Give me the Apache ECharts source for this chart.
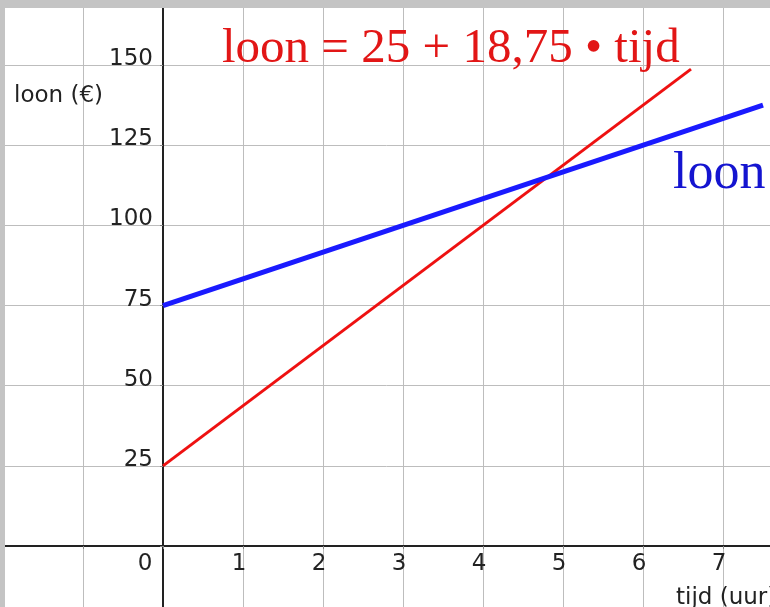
<!DOCTYPE html>
<html>
<head>
<meta charset="utf-8">
<script src="https://cdn.jsdelivr.net/npm/echarts@6/dist/echarts.min.js"></script>
<style>
html,body{margin:0;padding:0;background:#fff;}
#chart{width:770px;height:607px;}
</style>
</head>
<body>
<div id="chart"></div>
<script>
// Data
var redTijd = [0, 6.6];
var redLoon = [25, 148.75];
var blueTijd = [0, 7.5];
var blueLoon = [75, 137.5];
var xTickLabels = ['0', '1', '2', '3', '4', '5', '6', '7'];
var yTickLabels = ['25', '50', '75', '100', '125', '150'];
var formulaText = 'loon = 25 + 18,75 \u2022 tijd';
var blueText = 'loon';
var yName = 'loon (\u20ac)';
var xName = 'tijd (uur)';

function pairs(xs, ys) { return xs.map(function (x, i) { return [x, ys[i]]; }); }

var chart = echarts.init(document.getElementById('chart'));
var tickFont = 'DejaVu Sans';
var fs = 23;
chart.setOption({
  animation: false,
  backgroundColor: '#ffffff',
  grid: { left: 3, right: 0, top: 8, bottom: -19.2, containLabel: false, outerBoundsMode: 'none' },
  xAxis: {
    type: 'value', min: -2, max: 7.5875, interval: 1, position: 'bottom', offset: -80.2,
    axisLine: { onZero: false, lineStyle: { color: '#222', width: 2 } },
    axisTick: { show: true, length: 3, lineStyle: { color: '#888' } },
    splitLine: { show: true, showMaxLine: false, lineStyle: { color: '#bdbdbd', width: 1 } },
    axisLabel: {
      show: true, margin: 7, color: '#222', fontFamily: tickFont, fontSize: fs,
      padding: [0, 8, 0, 0], showMaxLabel: false, hideOverlap: false,
      formatter: function (v) {
        var s = String(Math.round(v));
        if (Math.abs(v) < 1e-9) return '{z|' + xTickLabels[0] + '}';
        return xTickLabels.indexOf(s) > 0 && Math.abs(v - Math.round(v)) < 1e-9 ? s : '';
      },
      rich: { z: { fontFamily: tickFont, fontSize: fs, color: '#222', padding: [0, 28, 0, 0] } }
    }
  },
  yAxis: {
    type: 'value', min: -25, max: 167.8, interval: 25, position: 'left', offset: -160,
    axisLine: { onZero: false, lineStyle: { color: '#222', width: 2 } },
    axisTick: { show: true, length: 3, lineStyle: { color: '#888' } },
    splitLine: { show: true, showMaxLine: false, lineStyle: { color: '#bdbdbd', width: 1 } },
    axisLabel: {
      show: true, margin: 10, color: '#222', fontFamily: tickFont, fontSize: fs,
      verticalAlign: 'middle', showMaxLabel: false, hideOverlap: false,
      formatter: function (v) {
        var s = String(Math.round(v));
        return yTickLabels.indexOf(s) >= 0 ? '{a|' + s + '}' : '';
      },
      rich: { a: { fontFamily: tickFont, fontSize: fs, color: '#222', padding: [0, 0, 12, 0] } }
    }
  },
  series: [
    {
      type: 'line', data: pairs(redTijd, redLoon), symbol: 'none',
      lineStyle: { color: '#ee1111', width: 3 }, z: 3
    },
    {
      type: 'line', data: pairs(blueTijd, blueLoon), symbol: 'none',
      lineStyle: { color: '#1a1aff', width: 5 }, z: 4
    }
  ],
  graphic: [
    { type: 'rect', shape: { x: 0, y: 0, width: 770, height: 8 }, style: { fill: '#c4c4c4' }, z: 100 },
    { type: 'rect', shape: { x: 0, y: 0, width: 5, height: 607 }, style: { fill: '#c4c4c4' }, z: 100 },
    { type: 'text', x: 222, y: 25, z: 50,
      style: { text: formulaText, font: '49px "Liberation Serif"', fill: '#e21616', textVerticalAlign: 'top' } },
    { type: 'text', x: 673, y: 148, z: 50,
      style: { text: blueText, font: '52px "Liberation Serif"', fill: '#1414d0', textVerticalAlign: 'top' } },
    { type: 'text', x: 14, y: 85, z: 50,
      style: { text: yName, font: fs + 'px "DejaVu Sans"', fill: '#222', textVerticalAlign: 'top' } },
    { type: 'text', x: 676, y: 587, z: 50,
      style: { text: xName, font: fs + 'px "DejaVu Sans"', fill: '#222', textVerticalAlign: 'top' } }
  ]
});
</script>
</body>
</html>
